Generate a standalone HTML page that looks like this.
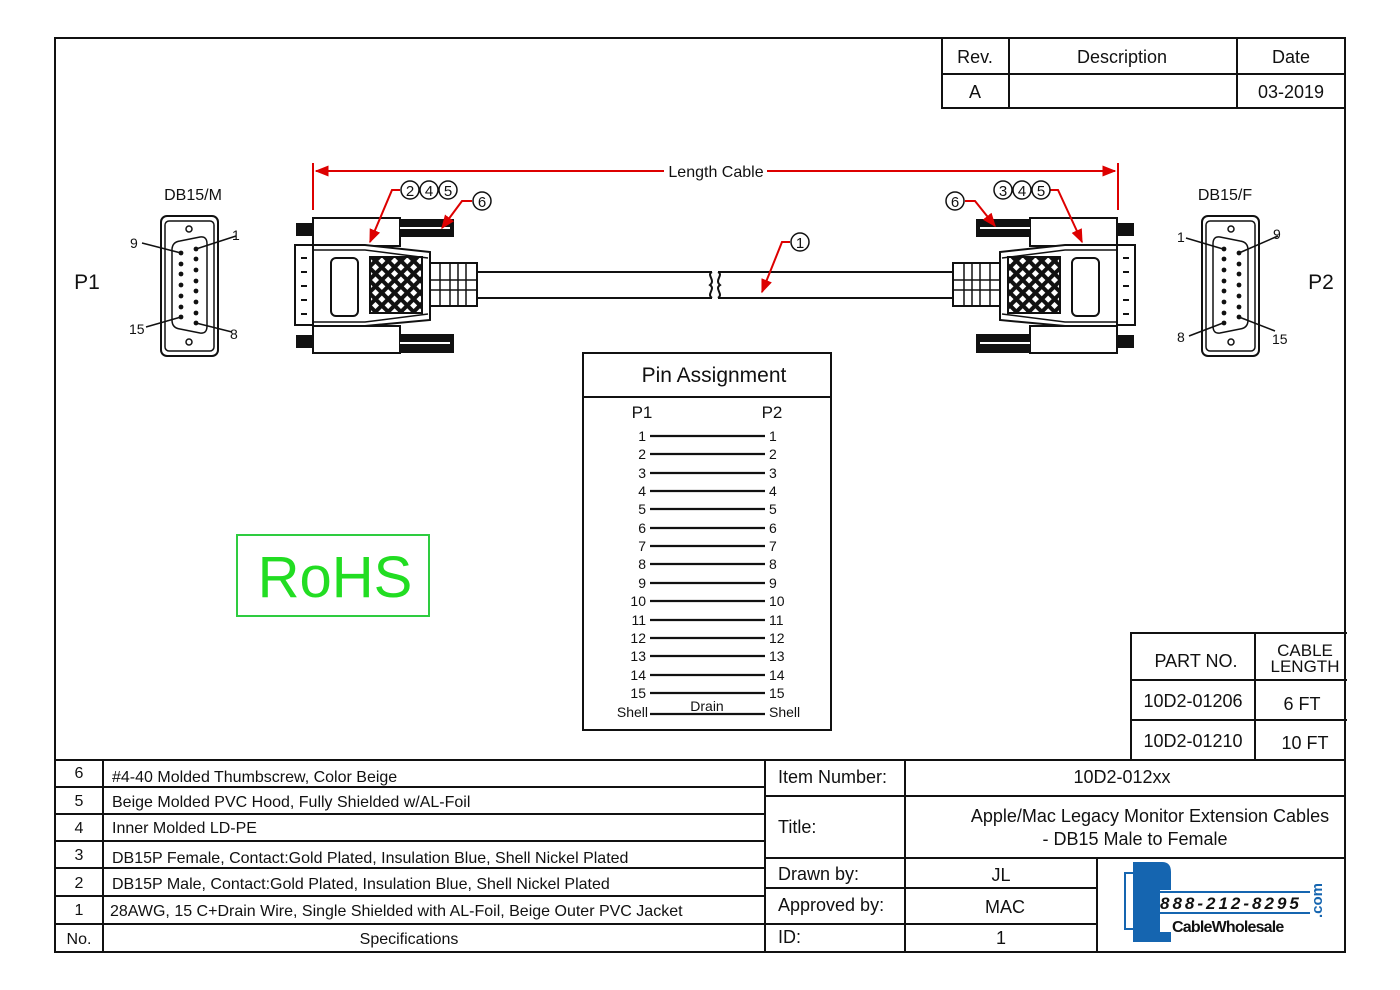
<!DOCTYPE html>
<html><head><meta charset="utf-8"><style>
html,body{margin:0;padding:0;background:#fff}
svg{display:block}
text{font-family:"Liberation Sans",sans-serif;fill:#111}
</style></head><body>
<svg width="1400" height="990" viewBox="0 0 1400 990" xmlns="http://www.w3.org/2000/svg">
<defs>
<pattern id="hatch" width="9" height="9" patternUnits="userSpaceOnUse" patternTransform="rotate(45)">
<rect width="9" height="9" fill="#111"/><rect x="2" y="2" width="5" height="5" fill="#fff"/>
</pattern>
<marker id="ar" viewBox="0 0 10 10" refX="9" refY="5" markerWidth="7" markerHeight="7" orient="auto-start-reverse"><path d="M0,1 L10,5 L0,9 z" fill="#d00"/></marker>
<g id="conn" stroke="#111" stroke-width="2" fill="#fff">
<rect x="297" y="224" width="16" height="11" fill="#111"/>
<rect x="297" y="336" width="16" height="11" fill="#111"/>
<rect x="313" y="218" width="87" height="28"/>
<rect x="313" y="326" width="87" height="27"/>
<rect x="400" y="220" width="53" height="16" fill="#111"/>
<rect x="400" y="335" width="53" height="17" fill="#111"/>
<line x1="400" y1="228" x2="450" y2="228" stroke="#fff" stroke-width="2"/>
<line x1="400" y1="343" x2="450" y2="343" stroke="#fff" stroke-width="2"/>
<rect x="295" y="245" width="18" height="80"/>
<g stroke-width="2" fill="none"><path d="M301,258h6M301,272h6M301,286h6M301,300h6M301,314h6"/></g>
<path d="M313,245 L365,245 L430,252 L430,320 L365,326 L313,326 Z"/>
<path d="M313,250 L365,250 L428,258 M313,322 L365,322 L428,314" fill="none" stroke-width="1.5"/>
<rect x="331" y="258" width="27" height="58" rx="5"/>
<rect x="370" y="257" width="52" height="56" fill="url(#hatch)"/>
<rect x="430" y="263" width="47" height="43"/>
<path d="M440,263v43M450,263v43M458,263v43M466,263v43M430,280h47M430,290h47" fill="none" stroke-width="1.5"/>
<path d="M477,272 H712 M477,298 H712" fill="none"/>
<path d="M712,272 c-6,3 4,8 -2,13 c6,4 -4,9 2,13" fill="none"/>
</g>
<g id="face" stroke="#111" fill="#fff">
<rect x="161" y="216" width="57" height="140" rx="6" stroke-width="2"/>
<rect x="165" y="221" width="49" height="130" rx="4" stroke-width="1.5"/>
<path d="M172,250 Q172,242 180,241 L200,237 Q207,236 207,244 L207,326 Q207,334 200,333 L180,329 Q172,328 172,320 Z" stroke-width="1.5"/>
<circle cx="189" cy="229" r="3" stroke-width="1.5"/><circle cx="189" cy="342" r="3" stroke-width="1.5"/>
<g fill="#111" stroke="none">
<circle cx="181" cy="253" r="2.4"/><circle cx="181" cy="264" r="2.4"/><circle cx="181" cy="274" r="2.4"/><circle cx="181" cy="285" r="2.4"/><circle cx="181" cy="296" r="2.4"/><circle cx="181" cy="307" r="2.4"/><circle cx="181" cy="317" r="2.4"/>
<circle cx="196" cy="249" r="2.4"/><circle cx="196" cy="259" r="2.4"/><circle cx="196" cy="270" r="2.4"/><circle cx="196" cy="281" r="2.4"/><circle cx="196" cy="291" r="2.4"/><circle cx="196" cy="302" r="2.4"/><circle cx="196" cy="313" r="2.4"/><circle cx="196" cy="323" r="2.4"/>
</g>
</g>
</defs>

<rect x="55" y="38" width="1290" height="914" fill="none" stroke="#111" stroke-width="2"/>

<!-- rev table -->
<g stroke="#111" stroke-width="2" fill="none">
<path d="M942,38V108H1345M942,74H1345M1009,38V108M1237,38V108"/>
</g>
<g font-size="18" text-anchor="middle">
<text x="975" y="63">Rev.</text><text x="1122" y="63">Description</text><text x="1291" y="63">Date</text>
<text x="975" y="98">A</text><text x="1291" y="98">03-2019</text>
</g>

<!-- length line -->
<g stroke="#d00" stroke-width="2" fill="none">
<line x1="313" y1="163" x2="313" y2="210"/><line x1="1118" y1="163" x2="1118" y2="210"/>
<line x1="316" y1="171" x2="664" y2="171" marker-start="url(#ar)"/>
<line x1="767" y1="171" x2="1115" y2="171" marker-end="url(#ar)"/>
</g>
<text x="716" y="177" font-size="16" text-anchor="middle">Length Cable</text>

<use href="#conn"/>
<use href="#conn" transform="translate(1430,0) scale(-1,1)"/>

<!-- callouts -->
<g stroke="#d00" stroke-width="2" fill="none">
<path d="M400,190 H392 L370,242" marker-end="url(#ar)"/>
<path d="M472,201 H462 L442,228" marker-end="url(#ar)"/>
<path d="M1050,190 H1058 L1082,242" marker-end="url(#ar)"/>
<path d="M965,201 H975 L995,226" marker-end="url(#ar)"/>
<path d="M790,242 H782 L762,292" marker-end="url(#ar)"/>
</g>
<g stroke="#111" stroke-width="1.5" fill="#fff">
<circle cx="410" cy="190" r="9"/><circle cx="429" cy="190" r="9"/><circle cx="448" cy="190" r="9"/>
<circle cx="482" cy="201" r="9"/>
<circle cx="1003" cy="190" r="9"/><circle cx="1022" cy="190" r="9"/><circle cx="1041" cy="190" r="9"/>
<circle cx="955" cy="201" r="9"/>
<circle cx="800" cy="242" r="9"/>
</g>
<g font-size="15" text-anchor="middle">
<text x="410" y="196">2</text><text x="429" y="196">4</text><text x="448" y="196">5</text><text x="482" y="207">6</text>
<text x="1003" y="196">3</text><text x="1022" y="196">4</text><text x="1041" y="196">5</text><text x="955" y="207">6</text>
<text x="800" y="248">1</text>
</g>

<!-- faces -->
<use href="#face"/>
<use href="#face" transform="translate(2420,0) scale(-1,1) translate(1000,0)"/>
<g stroke="#111" stroke-width="1.5">
<path d="M142,243 L181,253 M236,236 L196,249 M146,327 L181,317 M232,332 L196,323"/>
<path d="M1186,238 L1223,249 M1278,236 L1239,253 M1189,336 L1223,323 M1275,331 L1239,317"/>
</g>
<g font-size="14">
<text x="130" y="248">9</text><text x="232" y="240">1</text><text x="129" y="334">15</text><text x="230" y="339">8</text>
<text x="1177" y="242">1</text><text x="1273" y="239">9</text><text x="1177" y="342">8</text><text x="1272" y="344">15</text>
</g>
<text x="193" y="200" font-size="16" text-anchor="middle">DB15/M</text>
<text x="1225" y="200" font-size="16" text-anchor="middle">DB15/F</text>
<text x="87" y="289" font-size="21" text-anchor="middle">P1</text>
<text x="1321" y="289" font-size="21" text-anchor="middle">P2</text>

<!-- pin assignment -->
<rect x="583" y="353" width="248" height="377" fill="none" stroke="#111" stroke-width="2"/>
<line x1="583" y1="397" x2="831" y2="397" stroke="#111" stroke-width="2"/>
<text x="714" y="382" font-size="21" text-anchor="middle">Pin Assignment</text>
<text x="642" y="418" font-size="17" text-anchor="middle">P1</text>
<text x="772" y="418" font-size="17" text-anchor="middle">P2</text>
<g font-size="14" stroke="#111" stroke-width="2.2">
<g stroke="none" text-anchor="end">
<text x="646" y="441">1</text><text x="646" y="459">2</text><text x="646" y="478">3</text><text x="646" y="496">4</text><text x="646" y="514">5</text><text x="646" y="533">6</text><text x="646" y="551">7</text><text x="646" y="569">8</text><text x="646" y="588">9</text><text x="646" y="606">10</text><text x="646" y="625">11</text><text x="646" y="643">12</text><text x="646" y="661">13</text><text x="646" y="680">14</text><text x="646" y="698">15</text><text x="648" y="717">Shell</text>
</g>
<g stroke="none">
<text x="769" y="441">1</text><text x="769" y="459">2</text><text x="769" y="478">3</text><text x="769" y="496">4</text><text x="769" y="514">5</text><text x="769" y="533">6</text><text x="769" y="551">7</text><text x="769" y="569">8</text><text x="769" y="588">9</text><text x="769" y="606">10</text><text x="769" y="625">11</text><text x="769" y="643">12</text><text x="769" y="661">13</text><text x="769" y="680">14</text><text x="769" y="698">15</text><text x="769" y="717">Shell</text>
<text x="707" y="711" text-anchor="middle">Drain</text>
</g>
<path d="M650,436H765M650,454H765M650,473H765M650,491H765M650,509H765M650,528H765M650,546H765M650,564H765M650,583H765M650,601H765M650,620H765M650,638H765M650,656H765M650,675H765M650,693H765M650,714H765"/>
</g>

<!-- RoHS -->
<rect x="237" y="535" width="192" height="81" fill="none" stroke="#2ecc40" stroke-width="2"/>
<text x="335" y="597" font-size="58" text-anchor="middle" style="fill:#22dd22">RoHS</text>

<!-- part table -->
<g stroke="#111" stroke-width="2" fill="none">
<path d="M1131,760V633H1347M1131,680H1347M1131,720H1347M1255,633V760"/>
</g>
<g font-size="18" text-anchor="middle">
<text x="1196" y="667">PART NO.</text>
<text x="1305" y="656" font-size="17">CABLE</text><text x="1305" y="672" font-size="17">LENGTH</text>
<text x="1193" y="707">10D2-01206</text><text x="1302" y="710">6 FT</text>
<text x="1193" y="747">10D2-01210</text><text x="1305" y="749">10 FT</text>
</g>

<!-- bottom tables -->
<g stroke="#111" stroke-width="2" fill="none">
<path d="M55,760H1345M55,787H765M55,814H765M55,841H765M55,868H765M55,896H765M55,924H1097M103,760V952M765,760V952"/>
<path d="M765,796H1345M765,858H1345M765,888H1097M905,760V952M1097,858V952"/>
</g>
<g font-size="16">
<text x="79" y="778" text-anchor="middle">6</text><text x="112" y="782">#4-40 Molded Thumbscrew, Color Beige</text>
<text x="79" y="806" text-anchor="middle">5</text><text x="112" y="807">Beige Molded PVC Hood, Fully Shielded w/AL-Foil</text>
<text x="79" y="833" text-anchor="middle">4</text><text x="112" y="833">Inner Molded LD-PE</text>
<text x="79" y="860" text-anchor="middle">3</text><text x="112" y="863">DB15P Female, Contact:Gold Plated, Insulation Blue, Shell Nickel Plated</text>
<text x="79" y="888" text-anchor="middle">2</text><text x="112" y="889">DB15P Male, Contact:Gold Plated, Insulation Blue, Shell Nickel Plated</text>
<text x="79" y="915" text-anchor="middle">1</text><text x="110" y="916">28AWG, 15 C+Drain Wire, Single Shielded with AL-Foil,  Beige Outer PVC Jacket</text>
<text x="79" y="944" text-anchor="middle">No.</text><text x="409" y="944" text-anchor="middle">Specifications</text>
</g>
<g font-size="18">
<text x="778" y="783">Item Number:</text><text x="1122" y="783" text-anchor="middle">10D2-012xx</text>
<text x="778" y="833">Title:</text>
<text x="1150" y="822" text-anchor="middle">Apple/Mac Legacy Monitor Extension Cables</text>
<text x="1135" y="845" text-anchor="middle">- DB15 Male to Female</text>
<text x="778" y="880">Drawn by:</text><text x="1001" y="881" text-anchor="middle">JL</text>
<text x="778" y="911">Approved by:</text><text x="1005" y="913" text-anchor="middle">MAC</text>
<text x="778" y="943">ID:</text><text x="1001" y="944" text-anchor="middle">1</text>
</g>

<!-- logo -->
<g>
<rect x="1125" y="873" width="10" height="56" fill="#fff" stroke="#1565b0" stroke-width="2"/>
<path d="M1133,862 H1162 Q1171,862 1171,872 V890 H1160 V932 H1171 V942 H1133 Z" fill="#1565b0"/>
<rect x="1160" y="891" width="150" height="2" fill="#1565b0"/>
<rect x="1160" y="912" width="150" height="2" fill="#1565b0"/>
<text x="1160" y="909" font-size="17" font-style="italic" font-weight="bold" letter-spacing="3" style="fill:#111">888-212-8295</text>
<text x="1172" y="932" font-size="16" font-weight="bold" letter-spacing="-0.8" style="fill:#111">CableWholesale</text>
<text x="1322" y="918" font-size="15" font-weight="bold" transform="rotate(-90 1322 918)" style="fill:#1565b0">.com</text>
</g>
</svg>
</body></html>
